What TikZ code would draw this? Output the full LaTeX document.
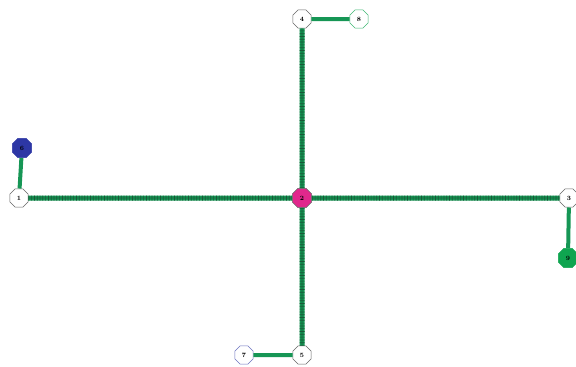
\documentclass[tikz,border=0pt]{standalone}
\usetikzlibrary{shapes.geometric}
\definecolor{leitung}{RGB}{22,150,85}
\definecolor{leitdunkel}{RGB}{25,70,45}
\definecolor{knotrot}{RGB}{224,40,140}
\definecolor{knotblau}{RGB}{45,55,165}
\definecolor{knotgruen}{RGB}{15,165,80}
\tikzset{
  knoten/.style={regular polygon, regular polygon sides=8, draw=gray!80!black, fill=white,
    minimum size=20pt, inner sep=0pt, line width=0.5pt, font=\fontsize{6.5}{6.5}\selectfont\bfseries},
  hauptstrang/.style={draw=leitung, line width=5pt,
    postaction={draw=leitdunkel!80!leitung, line width=5pt, dash pattern=on 0.7pt off 2.1pt},
    postaction={draw=leitdunkel!60!leitung, line width=0.6pt}},
  abzweig/.style={draw=leitung, line width=4pt}
}
\begin{document}
\begin{tikzpicture}[x=1pt, y=-1pt]
    \useasboundingbox (0,0) rectangle (576,367);
    % Hauptknoten
    \node[knoten] (n1) at (19,198) {1};
    \node[knoten, fill=knotrot, minimum size=21pt] (n2) at (302,198) {2};
    \node[knoten] (n3) at (569,198) {3};
    \node[knoten] (n4) at (302,19) {4};
    \node[knoten] (n5) at (302,355) {5};
    % Endknoten
    \node[knoten, fill=knotblau, draw=knotblau, minimum size=21pt] (n6) at (22,148) {6};
    \node[knoten, draw=knotblau!70] (n7) at (244,355) {7};
    \node[knoten, draw=knotgruen!80] (n8) at (359,19) {8};
    \node[knoten, fill=knotgruen, draw=knotgruen, minimum size=21pt] (n9) at (568,258) {9};
    % Strang
    \draw[hauptstrang] (n1) -- (n2);
    \draw[hauptstrang] (n2) -- (n3);
    \draw[hauptstrang] (n2) -- (n4);
    \draw[hauptstrang] (n2) -- (n5);
    % Abzweige
    \draw[abzweig] (n1) -- (n6);
    \draw[abzweig] (n4) -- (n8);
    \draw[abzweig] (n5) -- (n7);
    \draw[abzweig] (n3) -- (n9);
\end{tikzpicture}
\end{document}
